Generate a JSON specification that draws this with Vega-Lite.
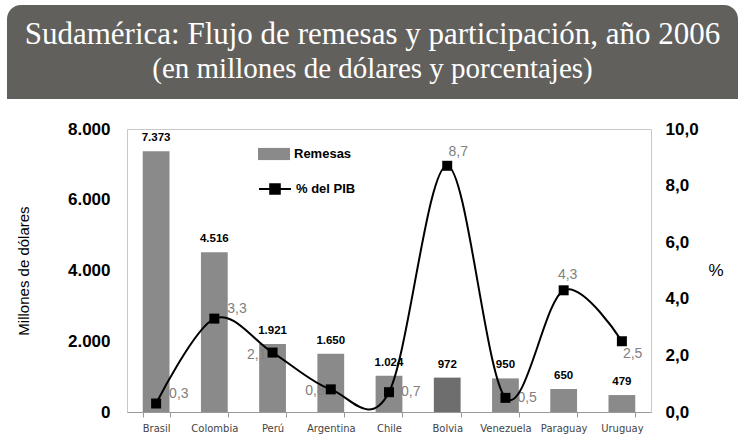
{
  "$schema": "https://vega.github.io/schema/vega-lite/v6.json",
  "background": "#ffffff",
  "padding": {"left": 7, "top": 5, "right": 7, "bottom": 5},
  "spacing": 30,
  "bounds": "flush",
  "center": false,
  "resolve": {"legend": {"fill": "independent", "stroke": "independent"}},
  "config": {
    "locale": {"number": {"decimal": ",", "thousands": ".", "grouping": [3], "currency": ["", ""]}},
    "view": {"stroke": "#c8c8c8"},
    "font": "Liberation Sans"
  },
  "vconcat": [
    {
      "data": {"values": [{}]},
      "width": 731,
      "height": 94,
      "view": {"stroke": null},
      "title": {
        "text": "Sudamérica: Flujo de remesas y participación, año 2006",
        "subtitle": "(en millones de dólares y porcentajes)",
        "offset": -80,
        "anchor": "middle",
        "frame": "group",
        "color": "#ffffff",
        "subtitleColor": "#ffffff",
        "font": "Liberation Serif",
        "subtitleFont": "Liberation Serif",
        "fontSize": 31,
        "subtitleFontSize": 29,
        "fontWeight": "normal",
        "subtitlePadding": 4
      },
      "mark": {"type": "rect", "color": "#62605d", "cornerRadiusTopLeft": 14, "cornerRadiusTopRight": 14},
      "encoding": {}
    },
    {
      "bounds": "flush",
      "spacing": 0,
      "resolve": {"legend": {"fill": "independent", "stroke": "independent"}},
      "hconcat": [
        {
          "data": {"values": [{}]},
          "width": 120,
          "height": 10,
          "view": {"stroke": null},
          "mark": {"type": "rect", "opacity": 0},
          "encoding": {}
        },
        {
          "data": {
            "values": [
              {"pais": "Brasil", "remesas": 7373, "pib": 0.3},
              {"pais": "Colombia", "remesas": 4516, "pib": 3.3},
              {"pais": "Perú", "remesas": 1921, "pib": 2.1},
              {"pais": "Argentina", "remesas": 1650, "pib": 0.8},
              {"pais": "Chile", "remesas": 1024, "pib": 0.7},
              {"pais": "Bolvia", "remesas": 972, "pib": 8.7},
              {"pais": "Venezuela", "remesas": 950, "pib": 0.5},
              {"pais": "Paraguay", "remesas": 650, "pib": 4.3},
              {"pais": "Uruguay", "remesas": 479, "pib": 2.5}
            ]
          },
          "width": 524,
          "height": 283,
          "encoding": {
            "x": {
              "field": "pais",
              "type": "nominal",
              "scale": {
                "domain": ["Brasil", "Colombia", "Perú", "Argentina", "Chile", "Bolvia", "Venezuela", "Paraguay", "Uruguay"],
                "paddingInner": 0.54,
                "paddingOuter": 0.27
              },
              "axis": {
                "title": null,
                "labelAngle": 0,
                "labelFont": "DejaVu Sans",
                "labelFontSize": 10,
                "labelColor": "#444444",
                "domainColor": "#999999",
                "tickColor": "#999999",
                "tickBand": "extent",
                "tickSize": 5,
                "labelPadding": 6,
                "grid": false
              }
            }
          },
          "layer": [
            {
              "encoding": {
                "y": {
                  "field": "remesas",
                  "type": "quantitative",
                  "scale": {"domain": [0, 8000]},
                  "axis": {
                    "orient": "left",
                    "values": [0, 2000, 4000, 6000, 8000],
                    "format": ",d",
                    "title": "Millones de dólares",
                    "titleFont": "Liberation Sans",
                    "titleFontSize": 15,
                    "titleFontWeight": "normal",
                    "titleColor": "#000000",
                    "labelFont": "Liberation Sans",
                    "labelFontSize": 17,
                    "labelFontWeight": "bold",
                    "labelColor": "#000000",
                    "ticks": false,
                    "domain": false,
                    "grid": false,
                    "labelPadding": 17,
                    "titlePadding": 36
                  }
                }
              },
              "layer": [
                {
                  "mark": {"type": "bar"},
                  "encoding": {
                    "fill": {
                      "condition": {"test": "datum.pais === 'Bolvia'", "value": "#6e6e6e"},
                      "datum": "Remesas",
                      "scale": {"range": ["#8a8a8a"]},
                      "legend": {
                        "orient": "none",
                        "legendX": 131,
                        "legendY": 9,
                        "title": null,
                        "symbolType": "M-1,-0.38H1V0.38H-1Z",
                        "symbolSize": 1024,
                        "symbolStrokeWidth": 0,
                        "labelFont": "Liberation Sans",
                        "labelFontSize": 13,
                        "labelFontWeight": "bold",
                        "labelColor": "#000000",
                        "labelOffset": 4,
                        "padding": 0
                      }
                    }
                  }
                },
                {
                  "mark": {"type": "text", "baseline": "middle", "dy": -13, "fontWeight": "bold", "fontSize": 11.5, "color": "#000000"},
                  "encoding": {
                    "text": {"field": "remesas", "type": "quantitative", "format": ",d"}
                  }
                }
              ]
            },
            {
              "encoding": {
                "y": {
                  "field": "pib",
                  "type": "quantitative",
                  "scale": {"domain": [0, 10]},
                  "axis": {
                    "orient": "right",
                    "values": [0, 2, 4, 6, 8, 10],
                    "format": ".1f",
                    "title": "%",
                    "titleAngle": 0,
                    "titleBaseline": "middle",
                    "titleAlign": "left",
                    "titleFont": "Liberation Sans",
                    "titleFontSize": 17,
                    "titleFontWeight": "normal",
                    "titleColor": "#000000",
                    "labelFont": "Liberation Sans",
                    "labelFontSize": 17,
                    "labelFontWeight": "bold",
                    "labelColor": "#000000",
                    "ticks": false,
                    "domain": false,
                    "grid": false,
                    "labelPadding": 14,
                    "titlePadding": 10
                  }
                }
              },
              "layer": [
                {
                  "transform": [{"filter": {"field": "pais", "oneOf": ["Brasil", "Colombia"]}}],
                  "mark": {"type": "text", "align": "left", "baseline": "middle", "dx": 13, "dy": -10, "fontSize": 14, "color": "#808080"},
                  "encoding": {"text": {"field": "pib", "type": "quantitative", "format": ".1f"}}
                },
                {
                  "transform": [{"filter": {"field": "pais", "oneOf": ["Bolvia"]}}],
                  "mark": {"type": "text", "align": "center", "baseline": "middle", "dx": 11, "dy": -14, "fontSize": 14, "color": "#808080"},
                  "encoding": {"text": {"field": "pib", "type": "quantitative", "format": ".1f"}}
                },
                {
                  "transform": [{"filter": {"field": "pais", "oneOf": ["Paraguay"]}}],
                  "mark": {"type": "text", "align": "center", "baseline": "middle", "dx": 4, "dy": -15, "fontSize": 14, "color": "#808080"},
                  "encoding": {"text": {"field": "pib", "type": "quantitative", "format": ".1f"}}
                },
                {
                  "transform": [{"filter": {"field": "pais", "oneOf": ["Chile", "Venezuela"]}}],
                  "mark": {"type": "text", "align": "left", "baseline": "middle", "dx": 12, "dy": 0, "fontSize": 14, "color": "#808080"},
                  "encoding": {"text": {"field": "pib", "type": "quantitative", "format": ".1f"}}
                },
                {
                  "transform": [{"filter": {"field": "pais", "oneOf": ["Perú", "Argentina"]}}],
                  "mark": {"type": "text", "align": "right", "baseline": "middle", "dx": -6, "dy": 2, "fontSize": 14, "color": "#808080"},
                  "encoding": {"text": {"field": "pib", "type": "quantitative", "format": ".1f"}}
                },
                {
                  "transform": [{"filter": {"field": "pais", "oneOf": ["Uruguay"]}}],
                  "mark": {"type": "text", "align": "left", "baseline": "middle", "dx": 1, "dy": 13, "fontSize": 14, "color": "#808080"},
                  "encoding": {"text": {"field": "pib", "type": "quantitative", "format": ".1f"}}
                },
                {
                  "mark": {"type": "line", "interpolate": "cardinal", "strokeWidth": 2},
                  "encoding": {
                    "stroke": {
                      "datum": "% del PIB",
                      "scale": {"range": ["#000000"]},
                      "legend": {
                        "orient": "none",
                        "legendX": 131,
                        "legendY": 43,
                        "title": null,
                        "symbolType": "M-1,0H1M-0.3,-0.3H0.3V0.3H-0.3Z",
                        "symbolSize": 1024,
                        "labelFont": "Liberation Sans",
                        "labelFontSize": 13,
                        "labelFontWeight": "bold",
                        "labelColor": "#000000",
                        "labelOffset": 4,
                        "padding": 0,
                        "encode": {"symbols": {"update": {"fill": {"value": "#000000"}, "stroke": {"value": "#000000"}, "strokeWidth": {"value": 2}, "opacity": {"value": 1}}}}
                      }
                    }
                  }
                },
                {
                  "mark": {"type": "point", "shape": "square", "filled": true, "size": 100, "color": "#000000", "opacity": 1}
                }
              ]
            }
          ],
          "resolve": {"scale": {"y": "independent"}}
        }
      ]
    }
  ]
}
